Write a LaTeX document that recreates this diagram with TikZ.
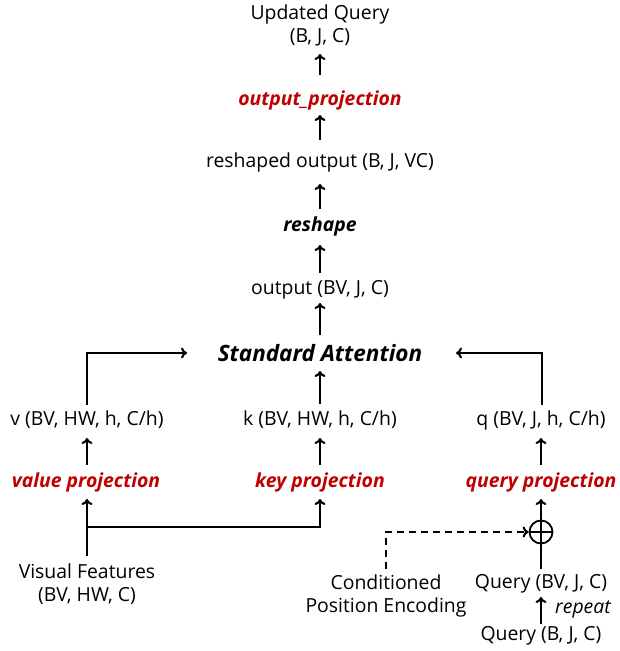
\documentclass[tikz,border=0pt]{standalone}
\usepackage{fontspec}
\setmainfont{Open Sans}
\usetikzlibrary{arrows.meta}
\definecolor{projred}{RGB}{192,0,0}
\tikzset{
  lbl/.style={inner sep=0pt, align=center, font=\fontsize{19.4}{23}\selectfont},
  op/.style={lbl, font=\fontsize{19.4}{23}\selectfont\bfseries\itshape},
  redop/.style={op, text=projred},
  conn/.style={line width=2.1, -{To[length=6,width=11]}},
  dconn/.style={line width=2.1, dashed, dash pattern=on 7pt off 5pt, -{To[length=6,width=11]}},
}
\begin{document}
\begin{tikzpicture}[x=1pt,y=-1pt]
\useasboundingbox (0,0) rectangle (619,651);
% top column
\node[lbl] (uq) at (320,25) {Updated Query\\(B, J, C)};
\node[redop] (oproj) at (320,100) {output\_projection};
\node[lbl] (rout) at (320,162) {reshaped output (B, J, VC)};
\node[op] (resh) at (320,226) {reshape};
\node[lbl] (out) at (320,290) {output (BV, J, C)};
\node[op, font=\fontsize{22.5}{26}\selectfont\bfseries\itshape] (sa) at (320,353) {Standard Attention};
% qkv
\node[lbl] (v) at (87,420) {v (BV, HW, h, C/h)};
\node[lbl] (k) at (320,420) {k (BV, HW, h, C/h)};
\node[lbl] (q) at (541,420) {q (BV, J, h, C/h)};
\node[redop] (vp) at (86,482) {value projection};
\node[redop] (kp) at (320,482) {key projection};
\node[redop] (qp) at (541,482) {query projection};
% inputs
\node[lbl] (vf) at (87,584) {Visual Features\\(BV, HW, C)};
\node[lbl] (cpe) at (386,596) {Conditioned\\Position Encoding};
\node[lbl] (qbv) at (541,584) {Query (BV, J, C)};
\node[lbl] (qb) at (541,636) {Query (B, J, C)};
\node[lbl, font=\fontsize{19.4}{23}\selectfont\itshape, anchor=west] (rep) at (555,609) {repeat};
\node[circle, draw, line width=1.8, minimum size=23, inner sep=0pt] (plus) at (541,532) {};
\draw[line width=1.8] (plus.west) -- (plus.east);
% connectors top
\draw[conn] (320,75) -- (320,54);
\draw[conn] (320,140) -- (320,115);
\draw[conn] (320,209) -- (320,184);
\draw[conn] (320,273) -- (320,245);
\draw[conn] (320,335) -- (320,303);
\draw[conn] (87,405) -- (87,353) -- (187,353);
\draw[conn] (542,405) -- (542,353) -- (456,353);
\draw[conn] (320,404) -- (320,371);
\draw[conn] (87,465) -- (87,438);
\draw[conn] (320,465) -- (320,438);
\draw[conn] (541,465) -- (541,438);
% bottom
\coordinate (vfTop) at (87,556);
\coordinate (br) at (87,527);
\coordinate (qbvTop) at (541,569);
\draw[conn] (vfTop) -- (87,499);
\draw[conn] (br) -- (320,527) -- (320,499);
\draw[conn] (qbvTop) -- (plus.center) -- (541,499);
\draw[dconn] (386,569) -- (386,532) -- (plus.west);
\draw[conn] (541,624) -- (541,597);
\end{tikzpicture}
\end{document}
